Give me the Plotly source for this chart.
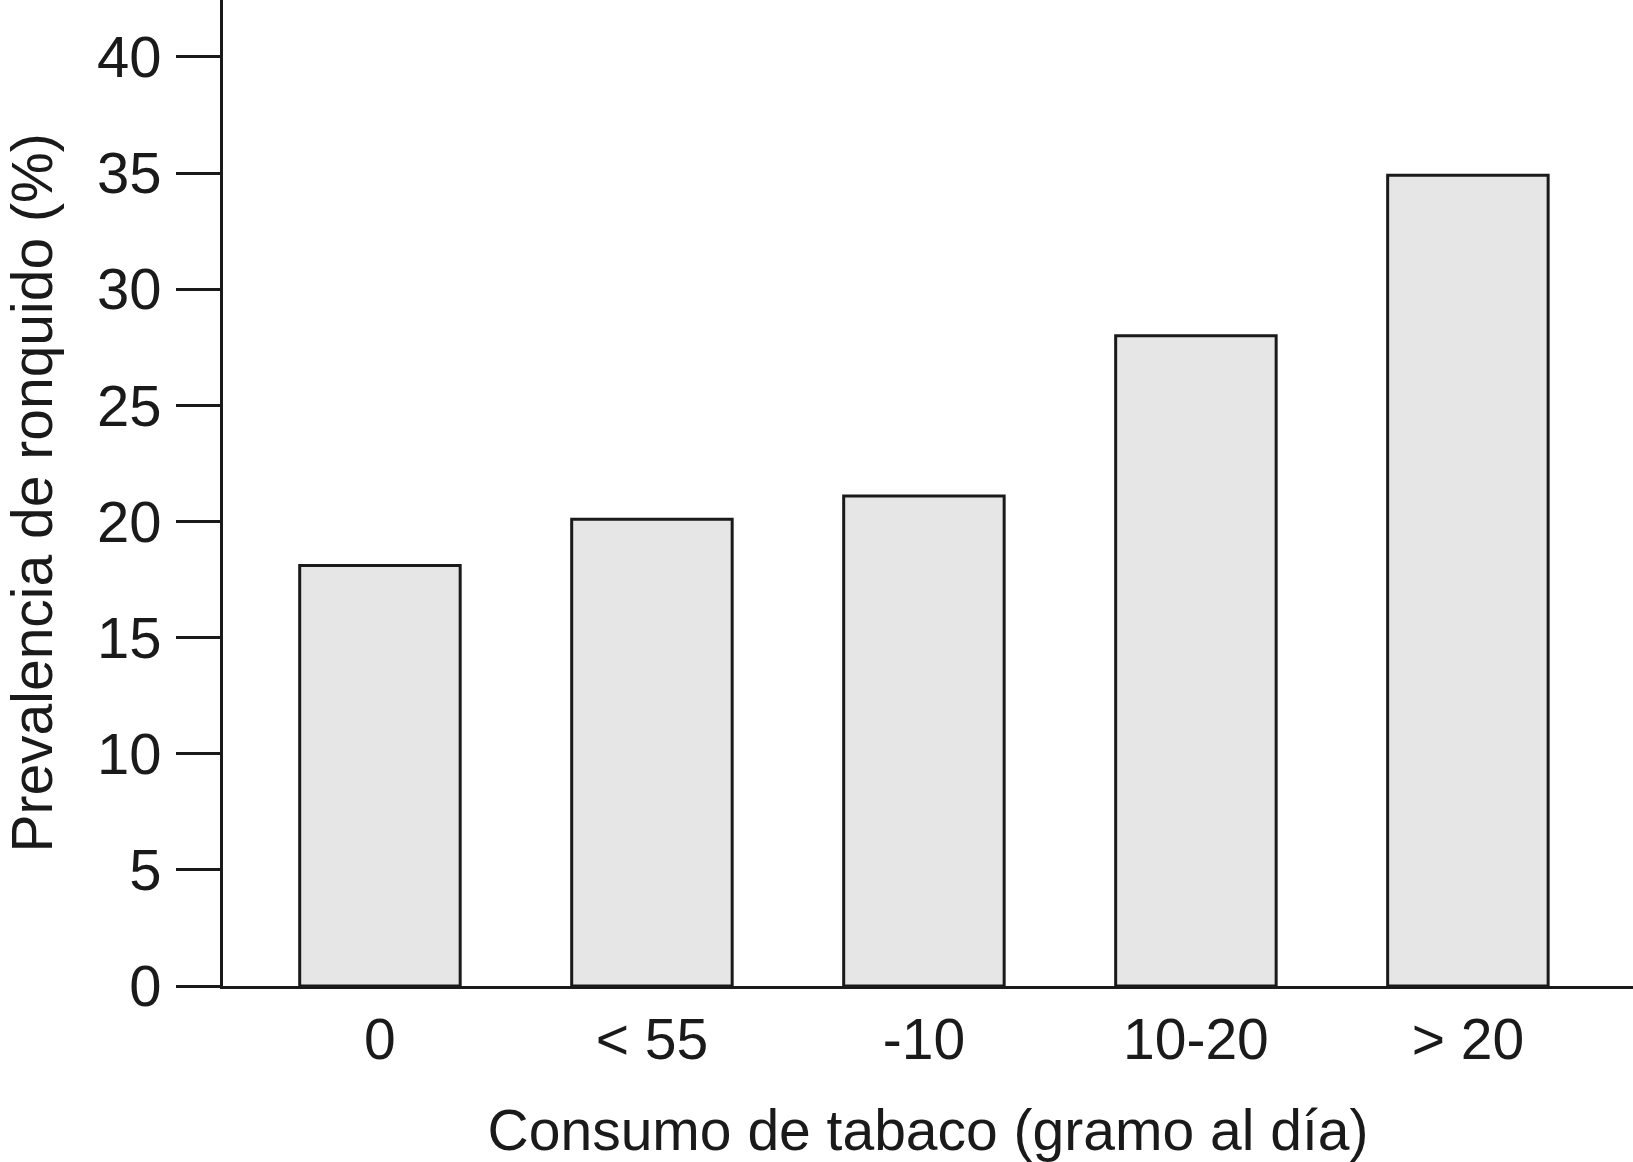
import plotly.graph_objects as go

categories = ["0", "< 55", "-10", "10-20", "> 20"]
prevalence = [18.1, 20.1, 21.1, 28, 34.9]
y_ticks = [0, 5, 10, 15, 20, 25, 30, 35, 40]

FONT = "Liberation Sans, Arial, Helvetica, sans-serif"
INK = "#1a1a1a"

fig = go.Figure(
    go.Bar(
        x=categories,
        y=prevalence,
        marker=dict(color="#e6e6e6", line=dict(color=INK, width=3)),
        width=0.59,
    )
)

fig.update_layout(
    width=1633,
    height=1162,
    margin=dict(l=223, r=0, t=0, b=176),
    paper_bgcolor="white",
    plot_bgcolor="white",
    showlegend=False,
    font=dict(family=FONT, size=57, color=INK),
)

fig.update_xaxes(
    type="category",
    range=[-0.577, 4.607],
    showline=True,
    linecolor=INK,
    linewidth=3,
    ticks="",
    showgrid=False,
    zeroline=False,
    ticklabelstandoff=2,
    tickfont=dict(family=FONT, size=57, color=INK),
    title=dict(
        text="Consumo de tabaco (gramo al día)",
        font=dict(family=FONT, size=57, color=INK),
        standoff=40,
    ),
)

fig.update_yaxes(
    range=[0, 42.45],
    tickvals=y_ticks,
    ticktext=[str(v) for v in y_ticks],
    showline=True,
    linecolor=INK,
    linewidth=3,
    ticks="outside",
    ticklen=44,
    tickwidth=3,
    tickcolor=INK,
    showgrid=False,
    zeroline=False,
    ticklabelstandoff=3,
    tickfont=dict(family=FONT, size=58, color=INK),
    title=dict(
        text="Prevalencia de ronquido (%)",
        font=dict(family=FONT, size=57, color=INK),
        standoff=55,
    ),
)

fig.write_html(
    "out.html",
    config={"displayModeBar": False},
    post_script="document.body.style.margin='0';document.body.style.padding='0';",
)
